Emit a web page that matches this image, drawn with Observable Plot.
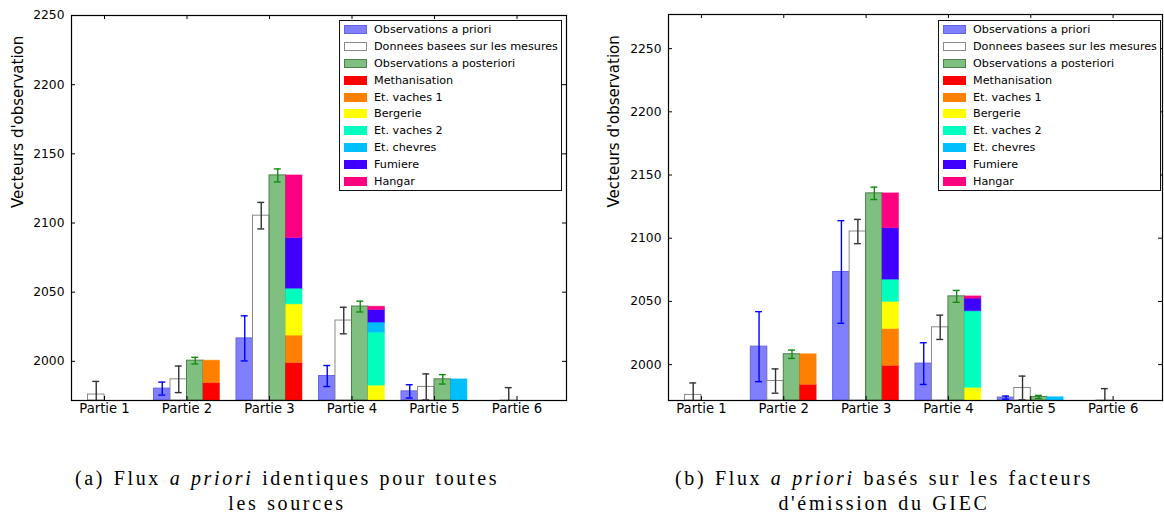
<!DOCTYPE html>
<html><head><meta charset="utf-8">
<script src="https://cdn.jsdelivr.net/npm/d3@7"></script>
<script src="https://cdn.jsdelivr.net/npm/@observablehq/plot@0.6"></script>
<style>
body{margin:0;background:#fff;width:1164px;height:519px;position:relative;overflow:hidden;font-family:"DejaVu Sans",sans-serif}
.fig{position:absolute;top:0}
.legend{position:absolute;background:#fff;border:1px solid #111;box-sizing:border-box;font-size:11.2px;color:#000;padding-top:0}
.row{display:flex;align-items:center;height:16.9px}
.sw{width:23px;height:9px;margin-left:4px;box-sizing:border-box;flex:none}
.lab{margin-left:7px;white-space:nowrap}
.cap{position:absolute;font-family:"Liberation Serif",serif;font-size:20px;line-height:25px;text-align:center;letter-spacing:2.65px;word-spacing:1px;white-space:nowrap;transform:translateX(-50%);color:#000}
</style></head><body>
<div id="figA" class="fig" style="left:0"></div>
<div id="figB" class="fig" style="left:582px"></div>
<div id="legA" class="legend" style="left:339px;top:20px;width:223px;height:171px"></div>
<div id="legB" class="legend" style="left:938px;top:20px;width:223px;height:171px"></div>
<div class="cap" style="left:287px;top:466px">(a) Flux <i>a priori</i> identiques pour toutes<br>les sources</div>
<div class="cap" style="left:884px;top:466px">(b) Flux <i>a priori</i> basés sur les facteurs<br>d'émission du GIEC</div>
<script>
// ---------- data ----------
const parties = ["Partie 1","Partie 2","Partie 3","Partie 4","Partie 5","Partie 6"];
const seriesLabels = ["Observations a priori","Donnees basees sur les mesures","Observations a posteriori"];
const sources = ["Methanisation","Et. vaches 1","Bergerie","Et. vaches 2","Et. chevres","Fumiere","Hangar"];
const sourceColors = ["#ff0000","#ff8000","#ffff00","#00ffbf","#00bfff","#4000ff","#ff0080"];
const yTicks = [2000, 2050, 2100, 2150, 2200, 2250];
const yAxisTitle = "Vecteurs d'observation";

// measurement-based data (same in both panels)
const measured    = [1976.0, 1987.0, 2105.3, 2029.5, 1981.5, 1971.5];
const measuredErr = [9.5, 9.6, 9.6, 9.6, 9.4, 9.5];

// panel (a)
const priorA        = [null, 1980.3, 2016.6, 1989.4, 1978.3, null];
const priorErrA     = [null, 4.7, 16.3, 7.6, 4.8, null];
const posteriorA    = [null, 2000.5, 2134.4, 2039.6, 1987.0, null];
const posteriorErrA = [null, 2.4, 4.7, 3.9, 3.4, null];
// rows follow `sources`, columns follow `parties`
const stackA = [
  [0, 1984.3, 1998.8, 0, 0, 0],
  [0, 16.2, 19.8, 0, 0, 0],
  [0, 0, 22.6, 1982.4, 0, 0],
  [0, 0, 11.3, 38.3, 0, 0],
  [0, 0, 0, 7.3, 1987.0, 0],
  [0, 0, 36.6, 9.1, 0, 0],
  [0, 0, 45.3, 2.4, 0, 0]
];

// panel (b)
const priorB        = [null, 2014.2, 2073.3, 2000.8, 1973.9, null];
const priorErrB     = [null, 27.7, 40.6, 16.5, 1.2, null];
const posteriorB    = [null, 2008.2, 2135.5, 2054.0, 1974.4, null];
const posteriorErrB = [null, 3.3, 4.9, 4.7, 1.2, null];
const stackB = [
  [0, 1984.0, 1999.0, 0, 0, 0],
  [0, 24.2, 29.2, 0, 0, 0],
  [0, 0, 21.4, 1981.6, 0, 0],
  [0, 0, 17.6, 60.6, 0, 0],
  [0, 0, 0, 0, 1974.2, 0],
  [0, 0, 40.8, 10.0, 0, 0],
  [0, 0, 27.5, 1.8, 0, 0]
];

// ---------- drawing ----------
const BW = 0.2; // bar width in group units
const seriesFill   = ["rgba(0,0,255,0.5)", "#ffffff", "rgba(0,128,0,0.5)"];
const seriesStroke = ["#6464e6", "#8a8a8a", "#4f7f4f"];
const errColor     = ["#0000ff", "#333333", "#138a13"];

function chart(o) {
  const yMin = o.yDomain[0];
  const fw = o.width - o.marginLeft - o.marginRight;
  const fh = o.height - o.marginTop - o.marginBottom;
  const series = [
    {vals: o.prior, errs: o.priorErr},
    {vals: measured, errs: measuredErr},
    {vals: o.posterior, errs: o.posteriorErr}
  ];
  const marks = [];
  series.forEach((s, k) => {
    const data = [];
    parties.forEach((p, i) => { if (s.vals[i] != null) data.push({x1: i + k*BW, x2: i + (k+1)*BW, xc: i + (k+0.5)*BW, v: s.vals[i], e: s.errs[i]}); });
    s.data = data;
    marks.push(Plot.rectY(data, {x1: "x1", x2: "x2", y1: () => yMin, y2: "v", fill: seriesFill[k], stroke: seriesStroke[k], strokeWidth: 1, clip: true}));
  });
  // stacked sources
  const segsBySource = sources.map(() => []);
  parties.forEach((p, i) => {
    let base = 0;
    sources.forEach((src, k) => {
      const v = o.stack[k][i];
      if (v > 0) segsBySource[k].push({x1: i + 3*BW, x2: i + 4*BW, y1: Math.max(base, yMin), y2: base + v});
      base += v;
    });
  });
  sources.forEach((src, k) => {
    marks.push(Plot.rectY(segsBySource[k], {x1: "x1", x2: "x2", y1: "y1", y2: "y2", fill: sourceColors[k], stroke: sourceColors[k], strokeOpacity: 0.45, strokeWidth: 1, clip: true}));
  });
  // error bars
  series.forEach((s, k) => {
    const d = s.data;
    marks.push(Plot.ruleX(d, {x: "xc", y1: e => e.v - e.e, y2: e => e.v + e.e, stroke: errColor[k], strokeWidth: 1.4, clip: true}));
    marks.push(Plot.ruleY(d, {y: e => e.v + e.e, x1: e => e.xc - 0.042, x2: e => e.xc + 0.042, stroke: errColor[k], strokeWidth: 1.4, clip: true}));
    marks.push(Plot.ruleY(d, {y: e => e.v - e.e, x1: e => e.xc - 0.042, x2: e => e.xc + 0.042, stroke: errColor[k], strokeWidth: 1.4, clip: true}));
  });
  const xTicks = parties.map((p, i) => i + 2*BW);
  // inward ticks on all four sides
  marks.push(Plot.tickY(yTicks, {y: d => d, insetRight: fw - 4, stroke: "#000"}));
  marks.push(Plot.tickY(yTicks, {y: d => d, insetLeft: fw - 4, stroke: "#000"}));
  marks.push(Plot.tickX(xTicks, {x: d => d, insetBottom: fh - 4, stroke: "#000"}));
  marks.push(Plot.tickX(xTicks, {x: d => d, insetTop: fh - 4, stroke: "#000"}));
  marks.push(Plot.frame({stroke: "#000", strokeWidth: 1.2}));
  marks.push(Plot.axisY({ticks: yTicks, tickSize: 0, tickPadding: 7, tickFormat: d => String(d), label: null, fontSize: 12.3}));
  marks.push(Plot.axisX({ticks: xTicks, tickSize: 0, tickPadding: 3, tickFormat: d => parties[Math.round(d - 2*BW)], label: null, fontSize: 13.2}));
  marks.push(Plot.text([yAxisTitle], {text: d => d, frameAnchor: "left", dx: o.titleDx, rotate: -90, fontSize: 15, fill: "#000"}));
  return Plot.plot({
    width: o.width, height: o.height,
    marginLeft: o.marginLeft, marginRight: o.marginRight, marginTop: o.marginTop, marginBottom: o.marginBottom,
    x: {domain: [0, 6]},
    y: {domain: o.yDomain},
    style: {fontFamily: "DejaVu Sans", fontSize: "12px", color: "#000", background: "transparent", overflow: "visible"},
    marks
  });
}

document.getElementById("figA").append(chart({
  prior: priorA, priorErr: priorErrA, posterior: posteriorA, posteriorErr: posteriorErrA, stack: stackA,
  yDomain: [1971.7, 2250], width: 582, height: 430, marginLeft: 71, marginRight: 16, marginTop: 15, marginBottom: 30, titleDx: -53
}));
document.getElementById("figB").append(chart({
  prior: priorB, priorErr: priorErrB, posterior: posteriorB, posteriorErr: posteriorErrB, stack: stackB,
  yDomain: [1971.6, 2277], width: 582, height: 430, marginLeft: 86, marginRight: 2, marginTop: 14, marginBottom: 30, titleDx: -54
}));

// legends
function legend(id) {
  const el = document.getElementById(id);
  const items = seriesLabels.map((l, k) => ({label: l, fill: seriesFill[k], stroke: seriesStroke[k]}))
    .concat(sources.map((s, k) => ({label: s, fill: sourceColors[k], stroke: sourceColors[k]})));
  items.forEach(it => {
    const row = document.createElement("div"); row.className = "row";
    const sw = document.createElement("div"); sw.className = "sw";
    sw.style.background = it.fill; sw.style.border = "1px solid " + it.stroke;
    const lab = document.createElement("span"); lab.className = "lab"; lab.textContent = it.label;
    row.append(sw, lab); el.append(row);
  });
}
legend("legA"); legend("legB");
</script>
</body></html>
